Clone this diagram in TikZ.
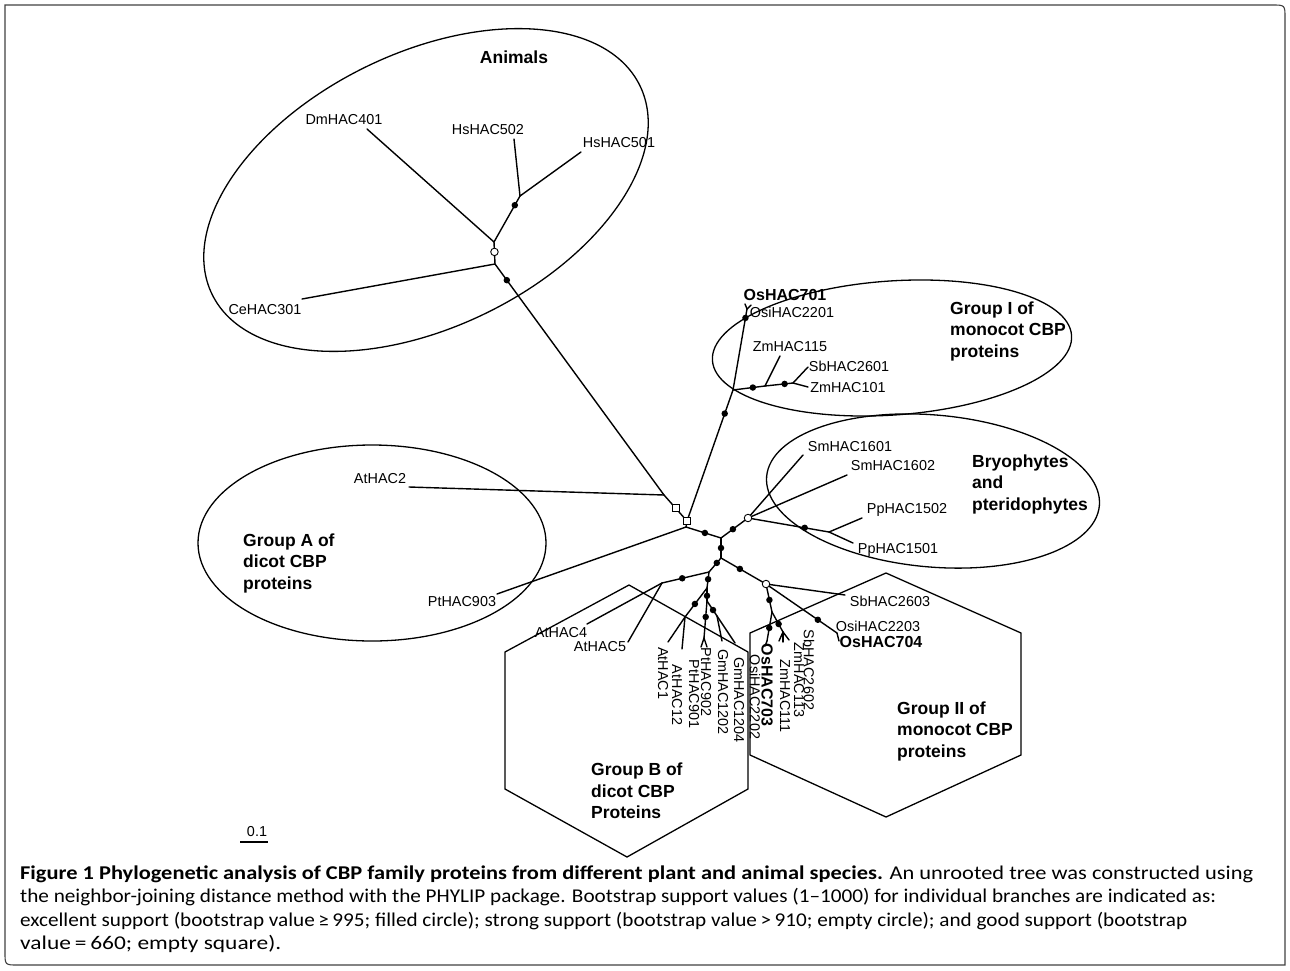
\documentclass[tikz,border=0pt]{standalone}
\usepackage{fontspec}
\setmainfont{Liberation Sans}
\newfontfamily\capfont{Carlito}
\begin{document}
\begin{tikzpicture}[x=1pt,y=-1pt]
\tikzset{
 br/.style={line width=1.4pt, line cap=round, line join=round},
 grp/.style={line width=1.3pt},
 frm/.style={line width=1.1pt, draw=black!75},
 lab/.style={inner sep=0pt, font=\fontsize{14.4}{16}\selectfont},
 blab/.style={inner sep=0pt, font=\fontsize{16}{18}\selectfont\bfseries},
 vlab/.style={lab, rotate=-90},
 vblab/.style={blab, rotate=-90},
 gtxt/.style={inner sep=0pt, anchor=west, align=left, font=\fontsize{17.5}{21.5}\selectfont\bfseries},
 fdot/.style={circle, fill=black, inner sep=0pt, minimum size=6.5pt},
 odot/.style={circle, draw=black, fill=white, line width=0.9pt, inner sep=0pt, minimum size=7.5pt},
 osq/.style={rectangle, draw=black, fill=white, line width=0.9pt, inner sep=0pt, minimum size=7pt},
 capl/.style={inner sep=0pt, anchor=base west, font=\capfont\fontsize{19.5}{23}\selectfont},
}
\useasboundingbox (0,0) rectangle (1290,970);
% frame
\draw[frm] (5,5) -- (1272,5) .. controls (1285,5) .. (1285,18) -- (1285,965) -- (18,965) .. controls (5,965) .. (5,952) -- cycle;

% group outlines
\draw[grp, rotate around={26:(426,190)}] (426,190) ellipse [x radius=238pt, y radius=137pt];
\draw[grp, rotate around={4:(892,348)}] (892,348) ellipse [x radius=180pt, y radius=67pt];
\draw[grp, rotate around={-5:(933,491)}] (933,491) ellipse [x radius=167pt, y radius=76pt];
\draw[grp] (372,543) ellipse [x radius=174pt, y radius=98pt];
\draw[grp] (629,585) -- (748,652) -- (748,789) -- (627,857) -- (505,789) -- (505,652) -- cycle;
\draw[grp] (886,573) -- (1021,633) -- (1021,755) -- (886,817) -- (750,755) -- (750,633) -- cycle;

% tree coordinates
\coordinate (dmT) at (367,129);
\coordinate (h502T) at (514,139);
\coordinate (h501T) at (581,152);
\coordinate (hJ) at (520,196);
\coordinate (aJ) at (494,242);
\coordinate (aK) at (495,264);
\coordinate (ceT) at (302,299);
\coordinate (J1) at (664,495);
\coordinate (at2T) at (409,487);
\coordinate (sq2) at (687,521);
\coordinate (J2) at (686,527);
\coordinate (pt903T) at (497,594);
\coordinate (G1) at (733,390);
\coordinate (osT) at (747,309);
\coordinate (osT1) at (745,304);
\coordinate (osT2) at (751,305);
\coordinate (gJ115) at (765,386);
\coordinate (z115T) at (780,356);
\coordinate (gJ26) at (793,383);
\coordinate (sb2601T) at (808,367);
\coordinate (z101T) at (808,387);
\coordinate (J3) at (721,538);
\coordinate (bC) at (748,518);
\coordinate (sm1601T) at (803,455);
\coordinate (sm1602T) at (847,475);
\coordinate (bJ) at (829,532);
\coordinate (pp1502T) at (862,518);
\coordinate (pp1501T) at (853,543);
\coordinate (J4) at (721,558);
\coordinate (J5) at (709,572);
\coordinate (atJ45) at (662,583);
\coordinate (at4T) at (587,624);
\coordinate (at5T) at (628,642);
\coordinate (J6) at (707,588);
\coordinate (atJ1) at (685,617);
\coordinate (at1T) at (668,642);
\coordinate (at12T) at (682,649);
\coordinate (J7) at (707,601);
\coordinate (ptF) at (704,638);
\coordinate (pt901T) at (701,647);
\coordinate (pt902T) at (707,647);
\coordinate (gmJ) at (717,616);
\coordinate (gm1202T) at (722,641);
\coordinate (gm1204T) at (735,643);
\coordinate (eC) at (766,584);
\coordinate (sb2603T) at (845,595);
\coordinate (os704T) at (837,633);
\coordinate (os704T2) at (839,641);
\coordinate (eJ) at (772,612);
\coordinate (os703T) at (767,641);
\coordinate (os703T2) at (765,646);
\coordinate (zF) at (783,632);
\coordinate (z111T) at (779,641);
\coordinate (z113T) at (783,642);
\coordinate (sb2602T) at (789,640);

% branches
\draw[br] (dmT) -- (aJ);
\draw[br] (h502T) -- (hJ);
\draw[br] (h501T) -- (hJ);
\draw[br] (hJ) -- (aJ) coordinate[pos=0.2] (hD);
\draw[br] (aJ) -- (aK) coordinate[pos=0.45] (aC);
\draw[br] (ceT) -- (aK);
\draw[br] (aK) -- (J1) coordinate[pos=0.07] (aD);
\draw[br] (at2T) -- (J1);
\draw[br] (J1) -- (sq2) coordinate[pos=0.5] (sq1);
\draw[br] (sq2) -- (J2);
\draw[br] (pt903T) -- (J2);
\draw[br] (sq2) -- (G1) coordinate[pos=0.82] (gD1);
\draw[br] (G1) -- (osT) coordinate[pos=0.89] (gD2);
\draw[br] (osT) -- (osT1);
\draw[br] (osT) -- (osT2);
\draw[br] (G1) -- (gJ115) coordinate[pos=0.62] (gD3);
\draw[br] (gJ115) -- (z115T);
\draw[br] (gJ115) -- (gJ26) coordinate[pos=0.7] (gD4);
\draw[br] (gJ26) -- (sb2601T);
\draw[br] (gJ26) -- (z101T);
\draw[br] (J2) -- (J3) coordinate[pos=0.54] (bD1);
\draw[br] (J3) -- (bC) coordinate[pos=0.44] (bD2);
\draw[br] (bC) -- (sm1601T);
\draw[br] (bC) -- (sm1602T);
\draw[br] (bC) -- (bJ) coordinate[pos=0.7] (bD3);
\draw[br] (bJ) -- (pp1502T);
\draw[br] (bJ) -- (pp1501T);
\draw[br] (J3) -- (J4) coordinate[pos=0.5] (cD1);
\draw[br] (J4) -- (J5) coordinate[pos=0.35] (cD2);
\draw[br] (J5) -- (atJ45) coordinate[pos=0.57] (cD3);
\draw[br] (atJ45) -- (at4T);
\draw[br] (atJ45) -- (at5T);
\draw[br] (J5) -- (J6) coordinate[pos=0.45] (cD4);
\draw[br] (J6) -- (atJ1) coordinate[pos=0.55] (cD5);
\draw[br] (atJ1) -- (at1T);
\draw[br] (atJ1) -- (at12T);
\draw[br] (J6) -- (J7) coordinate[pos=0.6] (cD6);
\draw[br] (J7) -- (ptF) coordinate[pos=0.43] (cD7);
\draw[br] (ptF) -- (pt901T);
\draw[br] (ptF) -- (pt902T);
\draw[br] (J7) -- (gmJ) coordinate[pos=0.6] (cD8);
\draw[br] (gmJ) -- (gm1202T);
\draw[br] (gmJ) -- (gm1204T);
\draw[br] (J4) -- (eC) coordinate[pos=0.42] (eD1);
\draw[br] (eC) -- (sb2603T);
\draw[br] (eC) -- (os704T) coordinate[pos=0.73] (eD2);
\draw[br] (os704T) -- (os704T2);
\draw[br] (eC) -- (eJ) coordinate[pos=0.57] (eD3);
\draw[br] (eJ) -- (os703T) coordinate[pos=0.55] (eD4);
\draw[br] (os703T) -- (os703T2);
\draw[br] (eJ) -- (zF) coordinate[pos=0.6] (eD5);
\draw[br] (zF) -- (z111T);
\draw[br] (zF) -- (z113T);
\draw[br] (zF) -- (sb2602T);

% support markers
\foreach \p in {hD,aD,gD1,gD2,gD3,gD4,bD1,bD2,bD3,cD1,cD2,cD3,cD4,cD5,cD6,cD7,cD8,eD1,eD2,eD3,eD4,eD5}
  \node[fdot] (m\p) at (\p) {};
\foreach \p in {aC,bC,eC}
  \node[odot] (m\p) at (\p) {};
\foreach \p in {sq1,sq2}
  \node[osq] (m\p) at (\p) {};

% leaf labels
\node[lab] (lDm) at (344,120) {DmHAC401};
\node[lab] (lHs502) at (488,130) {HsHAC502};
\node[lab] (lHs501) at (619,143) {HsHAC501};
\node[lab] (lCe) at (265,310) {CeHAC301};
\node[lab] (lAt2) at (380,479) {AtHAC2};
\node[lab] (lPt903) at (462,602) {PtHAC903};
\node[blab] (lOs701) at (785,295) {OsHAC701};
\node[lab] (lOsi2201) at (792,312) {OsiHAC2201};
\node[lab] (lZm115) at (790,347) {ZmHAC115};
\node[lab] (lSb2601) at (849,366) {SbHAC2601};
\node[lab] (lZm101) at (848,388) {ZmHAC101};
\node[lab] (lSm1601) at (850,447) {SmHAC1601};
\node[lab] (lSm1602) at (893,466) {SmHAC1602};
\node[lab] (lPp1502) at (907,510) {PpHAC1502};
\node[lab] (lPp1501) at (898,550) {PpHAC1501};
\node[lab] (lAt4) at (561,633) {AtHAC4};
\node[lab] (lAt5) at (600,647) {AtHAC5};
\node[lab] (lSb2603) at (890,601) {SbHAC2603};
\node[lab] (lOsi2203) at (878,626) {OsiHAC2203};
\node[blab] (lOs704) at (881,642) {OsHAC704};
\node[vlab] (lAt1) at (663,673) {AtHAC1};
\node[vlab] (lAt12) at (677,695) {AtHAC12};
\node[vlab] (lPt901) at (694,694) {PtHAC901};
\node[vlab] (lPt902) at (706,682) {PtHAC902};
\node[vlab] (lGm1202) at (723,692) {GmHAC1202};
\node[vlab] (lGm1204) at (739,700) {GmHAC1204};
\node[vlab] (lOsi2202) at (755,697) {OsiHAC2202};
\node[vblab] (lOs703) at (767,685) {OsHAC703};
\node[vlab] (lZm111) at (785,696) {ZmHAC111};
\node[vlab] (lZm113) at (799,680) {ZmHAC113};
\node[vlab] (lSb2602) at (809,670) {SbHAC2602};

% group titles
\node[inner sep=0pt, font=\fontsize{17.5}{21}\selectfont\bfseries] (tAnimals) at (514,57) {Animals};
\node[gtxt] (tG1) at (950,331) {Group I of\\monocot CBP\\proteins};
\node[gtxt] (tBry) at (972,484) {Bryophytes\\and\\pteridophytes};
\node[gtxt] (tGA) at (243,563) {Group A of\\dicot CBP\\proteins};
\node[gtxt] (tGB) at (591,791) {Group B of\\dicot CBP\\Proteins};
\node[gtxt] (tG2) at (897,731) {Group II of\\monocot CBP\\proteins};

% scale bar
\node[lab] (scl) at (257,832) {0.1};
\coordinate (sb1) at (240,842);
\coordinate (sb2) at (268,842);
\draw[line width=1.3pt] (sb1) -- (sb2);

% caption
\node[capl] (cap1) at (20,879) {\resizebox{1233pt}{\height}{{\bfseries Figure 1 Phylogenetic analysis of CBP family proteins from different plant and animal species.} An unrooted tree was constructed using}};
\node[capl] (cap2) at (20,902.5) {\resizebox{1196pt}{\height}{the neighbor-joining distance method with the PHYLIP package. Bootstrap support values (1–1000) for individual branches are indicated as:}};
\node[capl] (cap3) at (20,926) {\resizebox{1167pt}{\height}{excellent support (bootstrap value\,≥\,995; filled circle); strong support (bootstrap value\,>\,910; empty circle); and good support (bootstrap}};
\node[capl] (cap4) at (20,949.5) {\resizebox{261pt}{\height}{value\,=\,660; empty square).}};
\end{tikzpicture}
\end{document}
